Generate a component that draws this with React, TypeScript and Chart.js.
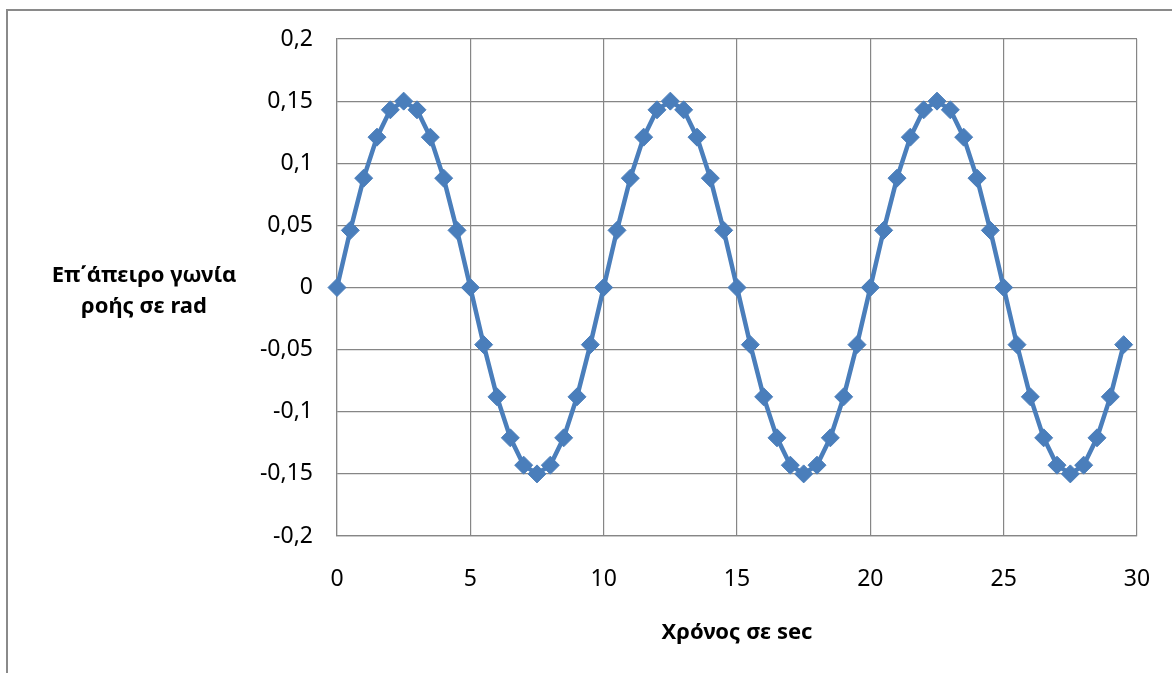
import React, { useEffect, useRef } from "react";
import { Chart, registerables } from "chart.js";

Chart.register(...registerables);

const timeSec: number[] = [
  0, 0.5, 1, 1.5, 2, 2.5, 3, 3.5, 4, 4.5,
  5, 5.5, 6, 6.5, 7, 7.5, 8, 8.5, 9, 9.5,
  10, 10.5, 11, 11.5, 12, 12.5, 13, 13.5, 14, 14.5,
  15, 15.5, 16, 16.5, 17, 17.5, 18, 18.5, 19, 19.5,
  20, 20.5, 21, 21.5, 22, 22.5, 23, 23.5, 24, 24.5,
  25, 25.5, 26, 26.5, 27, 27.5, 28, 28.5, 29, 29.5,
];

const angleRad: number[] = [
  0, 0.046, 0.088, 0.121, 0.143, 0.15, 0.143, 0.121, 0.088, 0.046,
  0, -0.046, -0.088, -0.121, -0.143, -0.15, -0.143, -0.121, -0.088, -0.046,
  0, 0.046, 0.088, 0.121, 0.143, 0.15, 0.143, 0.121, 0.088, 0.046,
  0, -0.046, -0.088, -0.121, -0.143, -0.15, -0.143, -0.121, -0.088, -0.046,
  0, 0.046, 0.088, 0.121, 0.143, 0.15, 0.143, 0.121, 0.088, 0.046,
  0, -0.046, -0.088, -0.121, -0.143, -0.15, -0.143, -0.121, -0.088, -0.046,
];

const xTickValues: number[] = [0, 5, 10, 15, 20, 25, 30];
const xTickLabels: string[] = ["0", "5", "10", "15", "20", "25", "30"];
const yTickValues: number[] = [-0.2, -0.15, -0.1, -0.05, 0, 0.05, 0.1, 0.15, 0.2];
const yTickLabels: string[] = ["-0,2", "-0,15", "-0,1", "-0,05", "0", "0,05", "0,1", "0,15", "0,2"];

const yTitleLines: string[] = ["Επ΄άπειρο γωνία", "ροής σε rad"];
const xTitle = "Χρόνος σε sec";

const FONT = "'Noto Sans', 'Open Sans', sans-serif";
const BLUE = "#4A7EBB";
const GRID = "#868686";

export default function App() {
  const canvasRef = useRef<HTMLCanvasElement | null>(null);

  useEffect(() => {
    if (!canvasRef.current) return;
    const titlesPlugin = {
      id: "titlesPlugin",
      afterDraw(chart: any) {
        const ctx = chart.ctx as CanvasRenderingContext2D;
        ctx.save();
        ctx.fillStyle = "#000";
        ctx.font = `bold 22px ${FONT}`;
        ctx.textAlign = "center";
        ctx.textBaseline = "alphabetic";
        ctx.fillText(yTitleLines[0], 144, 282);
        ctx.fillText(yTitleLines[1], 144, 313);
        const area = chart.chartArea;
        ctx.fillText(xTitle, (area.left + area.right) / 2, 639);
        ctx.restore();
      },
    };

    const chart = new Chart(canvasRef.current, {
      type: "scatter",
      data: {
        datasets: [
          {
            data: timeSec.map((t, i) => ({ x: t, y: angleRad[i] })),
            showLine: true,
            clip: false,
            borderColor: BLUE,
            backgroundColor: BLUE,
            borderWidth: 4.5,
            pointStyle: "rectRot",
            pointRadius: 9,
            pointBorderWidth: 1,
            pointBorderColor: BLUE,
            pointBackgroundColor: BLUE,
            tension: 0,
          },
        ],
      },
      options: {
        animation: false,
        responsive: false,
        maintainAspectRatio: false,
        layout: { padding: { top: 39, right: 35, left: 0, bottom: 0 } },
        plugins: { legend: { display: false }, tooltip: { enabled: false } },
        scales: {
          x: {
            type: "linear",
            min: 0,
            max: 30,
            afterBuildTicks: (scale: any) => {
              scale.ticks = xTickValues.map((v) => ({ value: v }));
            },
            afterFit: (scale: any) => {
              scale.height = 673 - 536;
              scale.paddingLeft = 0;
              scale.paddingRight = 0;
            },
            ticks: {
              callback: (v: any) => {
                const i = xTickValues.indexOf(Number(v));
                return i >= 0 ? xTickLabels[i] : "";
              },
              color: "#000",
              font: { family: FONT, size: 23 },
              padding: 30,
              maxRotation: 0,
              autoSkip: false,
            },
            grid: { color: GRID, lineWidth: 1.2, drawTicks: false },
            border: { color: GRID, width: 1.2 },
          },
          y: {
            type: "linear",
            min: -0.2,
            max: 0.2,
            afterBuildTicks: (scale: any) => {
              scale.ticks = yTickValues.map((v) => ({ value: v }));
            },
            afterFit: (scale: any) => {
              scale.width = 337;
              scale.paddingTop = 0;
              scale.paddingBottom = 0;
            },
            ticks: {
              callback: (v: any) => {
                const i = yTickValues.findIndex((t) => Math.abs(t - Number(v)) < 1e-9);
                return i >= 0 ? yTickLabels[i] : "";
              },
              color: "#000",
              font: { family: FONT, size: 23 },
              padding: 24,
              autoSkip: false,
            },
            grid: { color: GRID, lineWidth: 1.2, drawTicks: false },
            border: { color: GRID, width: 1.2 },
          },
        },
      },
      plugins: [titlesPlugin],
    } as any);

    return () => chart.destroy();
  }, []);

  return (
    <div
      style={{
        position: "absolute",
        left: 0,
        top: 0,
        width: 1172,
        height: 673,
        overflow: "hidden",
        background: "#fff",
      }}
    >
      <canvas
        ref={canvasRef}
        width={1172}
        height={673}
        style={{ position: "absolute", left: 0, top: 0, width: 1172, height: 673 }}
      />
      <div
        style={{
          position: "absolute",
          left: 6,
          top: 9,
          width: 1300,
          height: 800,
          borderLeft: "2px solid #8a8a8a",
          borderTop: "2px solid #8a8a8a",
          pointerEvents: "none",
        }}
      />
    </div>
  );
}
